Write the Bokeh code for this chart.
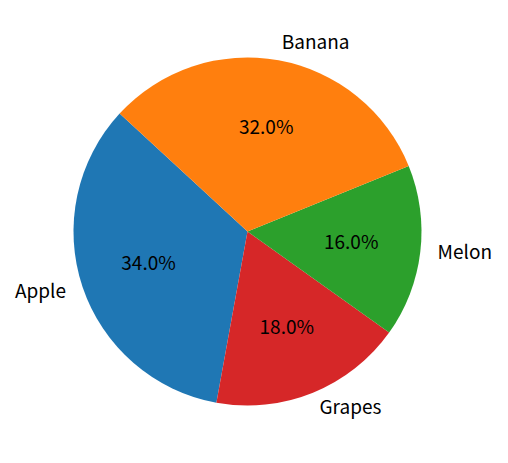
import numpy as np
from bokeh.plotting import figure
from bokeh.models import Range1d, ColumnDataSource
from bokeh.core.properties import value
from bokeh.embed import file_html
from bokeh.resources import INLINE

labels = ["Apple", "Grapes", "Melon", "Banana"]
shares = [34.0, 18.0, 16.0, 32.0]
colors = ["#1f77b4", "#d62728", "#2ca02c", "#ff7f0e"]
start_deg = 137.3

W, H = 500, 455
cx, cy, r = 247, H - 231, 174
FONT = "Noto Sans CJK KR"
FS = "19px"

frac = np.array(shares) / sum(shares)
ends = start_deg + 360 * np.cumsum(frac)
starts = ends - 360 * frac
mids = np.radians((starts + ends) / 2)

p = figure(width=W, height=H, output_backend="svg", toolbar_location=None,
           x_range=Range1d(0, W), y_range=Range1d(0, H), min_border=0)
p.axis.visible = False
p.grid.visible = False
p.outline_line_color = None

src = ColumnDataSource(dict(s=np.radians(starts), e=np.radians(ends), c=colors))
p.wedge(x=cx, y=cy, radius=r, start_angle="s", end_angle="e", fill_color="c",
        line_color=None, source=src)

lx = cx + 1.1 * r * np.cos(mids)
ly = cy + 1.1 * r * np.sin(mids)
align = ["right" if v < cx else "left" for v in lx]
p.text(x=lx, y=ly, text=labels, text_align=align, text_baseline="middle",
       y_offset=-3, text_font=value(FONT), text_font_size=FS, text_color="black")

px = cx + 0.6 * r * np.cos(mids)
py = cy + 0.6 * r * np.sin(mids)
pct = [f"{v:.1f}%" for v in 100 * frac]
p.text(x=px, y=py, text=pct, text_align="center", text_baseline="middle",
       y_offset=-3, text_font=value(FONT), text_font_size=FS, text_color="black")

open("out.html", "w").write(file_html(p, INLINE))
